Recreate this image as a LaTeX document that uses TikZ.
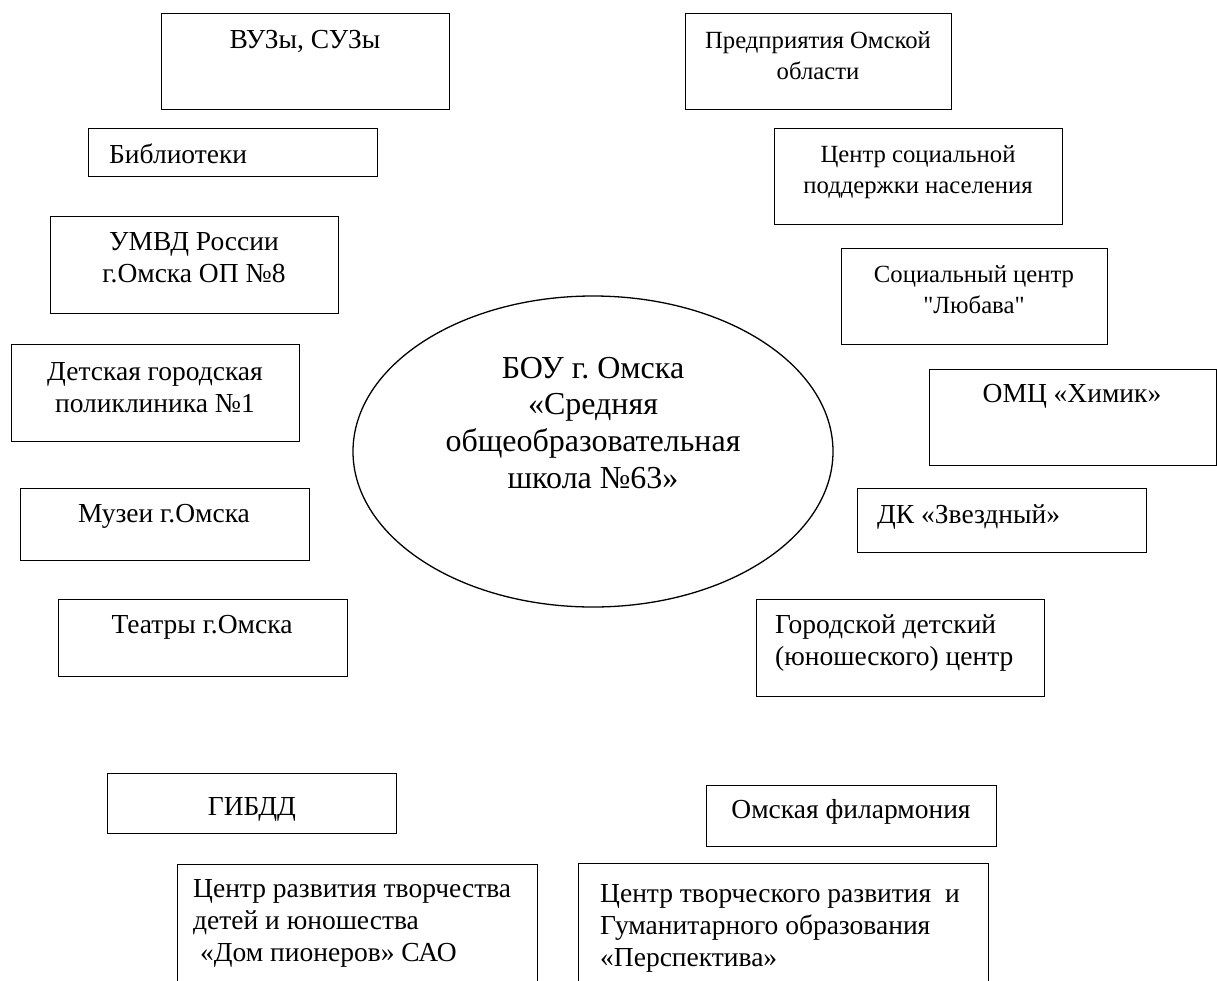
\documentclass[tikz,border=0pt]{standalone}
\usepackage{fontspec}
\setmainfont{Liberation Serif}[Ligatures=TeXOff]
\usetikzlibrary{shapes.geometric}
\newcommand{\mlc}[1]{\begin{tabular}[t]{@{}c@{}}#1\end{tabular}}
\newcommand{\mll}[1]{\begin{tabular}[t]{@{}l@{}}#1\end{tabular}}
\frenchspacing
\begin{document}
\begin{tikzpicture}[x=1pt,y=-1pt,
  boxst/.style={draw, line width=1.3pt, inner sep=0pt, anchor=north west},
  txt/.style={inner sep=0pt, anchor=base, font=\fontsize{27.5}{32}\selectfont},
  txtl/.style={txt, anchor=base west},
  smtxt/.style={inner sep=0pt, anchor=base, font=\fontsize{24.7}{31}\selectfont},
  bigtxt/.style={inner sep=0pt, anchor=base, font=\fontsize{32}{36.7}\selectfont}]
\useasboundingbox (0,0) rectangle (1217,980);
\clip (0,0) rectangle (1217,980);
\fill[white] (0,0) rectangle (1217,980);
% boxes
\node[boxst, minimum width=288pt, minimum height=96pt] (vuz) at (161,13) {};
\node[boxst, minimum width=266pt, minimum height=96pt] (pred) at (685,13) {};
\node[boxst, minimum width=289pt, minimum height=48pt] (bib) at (88,128) {};
\node[boxst, minimum width=288pt, minimum height=96pt] (csp) at (774,128) {};
\node[boxst, minimum width=266pt, minimum height=96pt] (lub) at (841,248) {};
\node[boxst, minimum width=288pt, minimum height=97pt] (umvd) at (50,216) {};
\node[boxst, minimum width=288pt, minimum height=97pt] (det) at (11,344) {};
\node[boxst, minimum width=287pt, minimum height=96pt] (omc) at (929,369) {};
\node[boxst, minimum width=289pt, minimum height=64pt] (dk) at (857,488) {};
\node[boxst, minimum width=288pt, minimum height=97pt] (gor) at (756,599) {};
\node[boxst, minimum width=289pt, minimum height=72pt] (muz) at (20,488) {};
\node[boxst, minimum width=289pt, minimum height=77pt] (teatr) at (58,599) {};
\node[boxst, minimum width=289pt, minimum height=60pt] (gibdd) at (107,773) {};
\node[boxst, minimum width=290pt, minimum height=61pt] (fil) at (706,785) {};
\node[boxst, minimum width=360pt, minimum height=140pt] (dom) at (177,864) {};
\node[boxst, minimum width=410pt, minimum height=140pt] (persp) at (578,863) {};
% central ellipse
\node[draw, ellipse, line width=1.3pt, inner sep=0pt, minimum width=480pt, minimum height=311pt] (school) at (593,451.5) {};
% texts
\node[txt] (tvuz) at (305,48) {ВУЗы, СУЗы};
\node[smtxt] (tpred) at (818,48) {\mlc{Предприятия Омской\\области}};
\node[txtl] (tbib) at (109,163) {Библиотеки};
\node[smtxt] (tcsp) at (918,162) {\mlc{Центр социальной\\поддержки населения}};
\node[smtxt] (tlub) at (974,282) {\mlc{Социальный центр\\"Любава"}};
\node[txt] (tumvd) at (194,250) {\mlc{УМВД России\\г.Омска ОП №8}};
\node[txt] (tdet) at (155,380) {\mlc{Детская городская\\поликлиника №1}};
\node[txt] (tomc) at (1072,402) {ОМЦ «Химик»};
\node[txtl] (tdk) at (877,523) {ДК «Звездный»};
\node[txtl] (tgor) at (775,633) {\mll{Городской детский\\(юношеского) центр}};
\node[txt] (tmuz) at (164,522) {Музеи г.Омска};
\node[txt] (tteatr) at (202,633) {Театры г.Омска};
\node[txt] (tgibdd) at (252,815) {ГИБДД};
\node[txt] (tfil) at (851,818) {Омская филармония};
\node[txtl] (tdom) at (193,897) {\mll{Центр развития творчества\\детей и юношества\\\hspace{7pt}«Дом пионеров» САО}};
\node[txtl] (tpersp) at (600,902) {\mll{Центр творческого развития\ \ и\\Гуманитарного образования\\«Перспектива»}};
\node[bigtxt] (tschool) at (593,378) {\mlc{БОУ г. Омска\\«Средняя\\общеобразовательная\\школа №63»}};
\end{tikzpicture}
\end{document}
